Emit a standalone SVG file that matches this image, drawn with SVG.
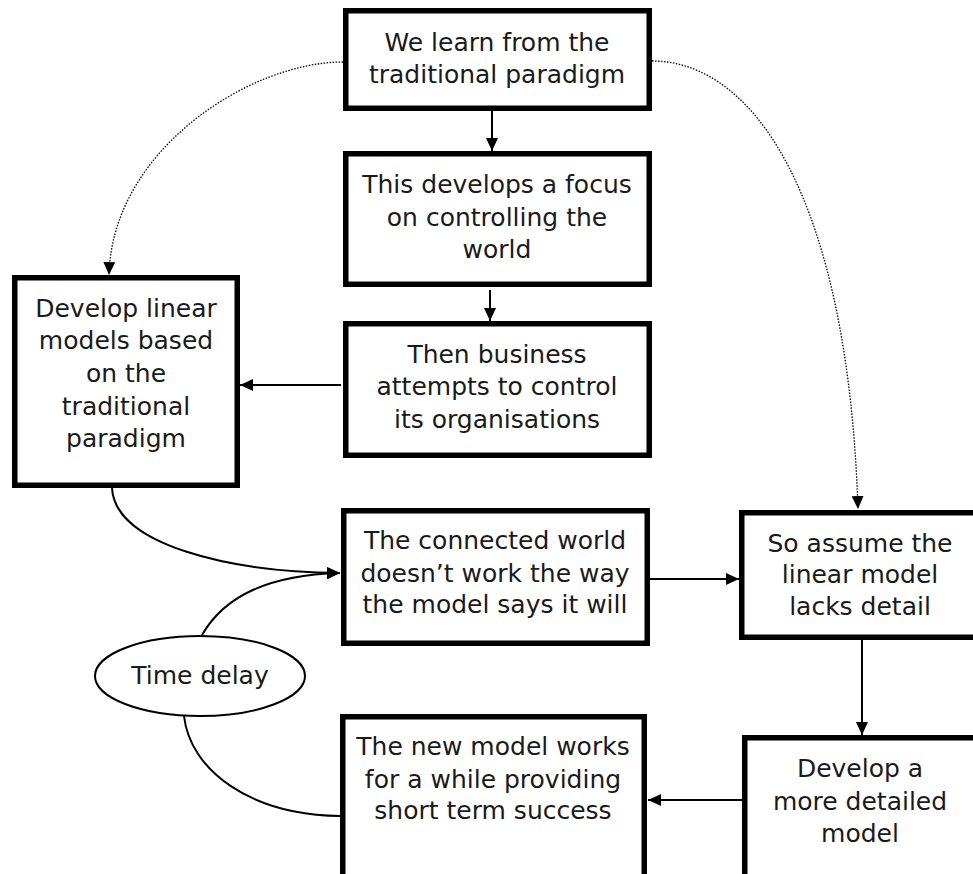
<svg xmlns="http://www.w3.org/2000/svg" width="973" height="874" viewBox="0 0 973 874">
<style>
.box{fill:#fff;stroke:#000;stroke-width:5.5}
.t{font-family:"DejaVu Sans","Liberation Sans",sans-serif;font-size:25px;fill:#1a1a1a;text-anchor:middle}
.c{fill:none;stroke:#000;stroke-width:2}
.d{fill:none;stroke:#000;stroke-width:1.3;stroke-dasharray:1.5 1.5}
</style>
<defs>
<marker id="ah" markerUnits="userSpaceOnUse" markerWidth="14" markerHeight="12" refX="13" refY="6" orient="auto">
<path d="M0,0 L13,6 L0,12 Z" fill="#000"/>
</marker>
</defs>
<rect width="973" height="874" fill="#fff"/>
<g id="connectors">
<line class="c" x1="492" y1="111" x2="492" y2="151" marker-end="url(#ah)"/>
<line class="c" x1="490" y1="290" x2="490" y2="321" marker-end="url(#ah)"/>
<line class="c" x1="341" y1="385" x2="240" y2="385" marker-end="url(#ah)"/>
<line class="c" x1="650" y1="579" x2="739" y2="579" marker-end="url(#ah)"/>
<line class="c" x1="862" y1="640" x2="862" y2="735" marker-end="url(#ah)"/>
<line class="c" x1="742" y1="800" x2="648" y2="800" marker-end="url(#ah)"/>
<path class="c" d="M112,488 C115,545 230,572 340,573" marker-end="url(#ah)"/>
<path class="c" d="M202,635 C225,595 270,575 340,573" marker-end="url(#ah)"/>
<path class="c" d="M184,716 C190,770 250,815 340,816"/>
<path class="d" d="M343,62 C250,62 112,150 109,275" marker-end="url(#ah)"/>
<path class="d" d="M652,61 C755,61 848,200 858,509" marker-end="url(#ah)"/>
</g>
<g id="n1"><rect class="box" x="345.75" y="10.75" width="303.5" height="97.5"/>
<text class="t" x="497" y="51">We learn from the</text><text class="t" x="497" y="83">traditional paradigm</text></g>
<g id="n2"><rect class="box" x="345.75" y="153.75" width="303.5" height="130.5"/>
<text class="t" x="497" y="193">This develops a focus</text><text class="t" x="497" y="226">on controlling the</text><text class="t" x="497" y="258">world</text></g>
<g id="n3"><rect class="box" x="345.75" y="323.75" width="303.5" height="131.5"/>
<text class="t" x="497" y="363">Then business</text><text class="t" x="497" y="395">attempts to control</text><text class="t" x="497" y="428">its organisations</text></g>
<g id="n4"><rect class="box" x="14.75" y="277.75" width="222.5" height="207.5"/>
<text class="t" x="126" y="317">Develop linear</text><text class="t" x="126" y="349">models based</text><text class="t" x="126" y="382">on the</text><text class="t" x="126" y="415">traditional</text><text class="t" x="126" y="447">paradigm</text></g>
<g id="n6"><rect class="box" x="343.75" y="510.75" width="303.5" height="132.5"/>
<text class="t" x="495" y="549">The connected world</text><text class="t" x="495" y="582">doesn’t work the way</text><text class="t" x="495" y="613">the model says it will</text></g>
<g id="n5"><rect class="box" x="741.75" y="512.75" width="300" height="124.5"/>
<text class="t" x="860" y="552">So assume the</text><text class="t" x="860" y="583">linear model</text><text class="t" x="860" y="615">lacks detail</text></g>
<g id="n8"><rect class="box" x="744.75" y="737.75" width="300" height="139"/>
<text class="t" x="860" y="777">Develop a</text><text class="t" x="860" y="810">more detailed</text><text class="t" x="860" y="842">model</text></g>
<g id="n7"><rect class="box" x="342.75" y="716.75" width="301.5" height="160"/>
<text class="t" x="493" y="755">The new model works</text><text class="t" x="493" y="788">for a while providing</text><text class="t" x="493" y="819">short term success</text></g>
<g id="td"><ellipse cx="200" cy="676" rx="105" ry="40" fill="#fff" stroke="#000" stroke-width="2"/>
<text class="t" x="200" y="684">Time delay</text></g>
</svg>
